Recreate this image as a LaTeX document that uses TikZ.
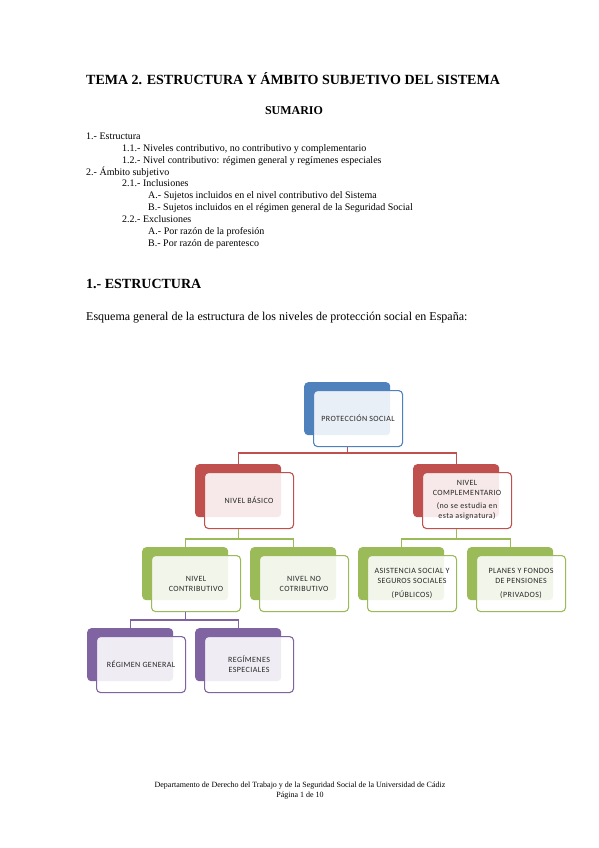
\documentclass[tikz,border=0pt]{standalone}
\usepackage{fontspec}
\setmainfont{Liberation Serif}
\newfontfamily\boxfont[LetterSpace=5]{Carlito}
\definecolor{cblue}{HTML}{4F81BD}
\definecolor{cred}{HTML}{C0504D}
\definecolor{cgreen}{HTML}{9BBB59}
\definecolor{cpurple}{HTML}{8064A2}
\begin{document}
\begin{tikzpicture}[x=1pt,y=-1pt,
  back/.style={draw=none, fill=#1, rounded corners=4pt, minimum width=86pt, minimum height=53pt, inner sep=0pt, anchor=north west},
  front/.style={draw=#1, line width=1.1pt, fill=white, fill opacity=0.88, text opacity=1, rounded corners=4pt, minimum width=89pt, minimum height=56pt, inner sep=1pt, anchor=north west, align=center, font=\boxfont\fontsize{8}{10}\selectfont, text=black!85, xshift=9pt, yshift=-8pt},
  conn/.style={draw=#1, line width=1.3pt},
  txt/.style={anchor=base west, inner sep=0pt, font=\fontsize{10}{12}\selectfont}]
\fill[white] (0,0) rectangle (599,848);
\useasboundingbox (0,0) rectangle (599,848);
% header texts
\node[anchor=base west, inner sep=0pt, font=\bfseries\fontsize{14}{16}\selectfont] (title) at (86,85) {TEMA 2. ESTRUCTURA Y ÁMBITO SUBJETIVO DEL SISTEMA};
\node[anchor=base, inner sep=0pt, font=\bfseries\fontsize{12}{14}\selectfont] (sumario) at (294,115) {SUMARIO};
\node[txt] (l1) at (86,139.5) {1.- Estructura};
\node[txt] (l2) at (122,151.4) {1.1.- Niveles contributivo, no contributivo y complementario};
\node[txt] (l3) at (122,163.2) {1.2.- Nivel contributivo: régimen general y regímenes especiales};
\node[txt] (l4) at (86,175.1) {2.- Ámbito subjetivo};
\node[txt] (l5) at (122,186.9) {2.1.- Inclusiones};
\node[txt] (l6) at (148,198.8) {A.- Sujetos incluidos en el nivel contributivo del Sistema};
\node[txt] (l7) at (148,210.6) {B.- Sujetos incluidos en el régimen general de la Seguridad Social};
\node[txt] (l8) at (122,222.5) {2.2.- Exclusiones};
\node[txt] (l9) at (148,234.3) {A.- Por razón de la profesión};
\node[txt] (l10) at (148,246.2) {B.- Por razón de parentesco};
\node[anchor=base west, inner sep=0pt, font=\bfseries\fontsize{14}{16}\selectfont] (sec) at (86,288) {1.- ESTRUCTURA};
\node[anchor=base west, inner sep=0pt, font=\fontsize{12}{14}\selectfont] (intro) at (86,320) {Esquema general de la estructura de los niveles de protección social en España:};
% boxes
\node[back=cblue] (bprot) at (304,382) {};
\node[front=cblue] (fprot) at (bprot.north west) {PROTECCIÓN SOCIAL};
\node[back=cred] (bbas) at (195,464) {};
\node[front=cred] (fbas) at (bbas.north west) {NIVEL BÁSICO};
\node[back=cred] (bcom) at (413,464) {};
\node[front=cred] (fcom) at (bcom.north west) {NIVEL\\COMPLEMENTARIO\\[3pt](no se estudia en\\esta asignatura)};
\node[back=cgreen] (bcon) at (142,547) {};
\node[front=cgreen] (fcon) at (bcon.north west) {NIVEL\\CONTRIBUTIVO};
\node[back=cgreen] (bnoc) at (250,547) {};
\node[front=cgreen] (fnoc) at (bnoc.north west) {NIVEL NO\\COTRIBUTIVO};
\node[back=cgreen] (basi) at (358,547) {};
\node[front=cgreen] (fasi) at (basi.north west) {ASISTENCIA SOCIAL Y\\SEGUROS SOCIALES\\[4pt](PÚBLICOS)};
\node[back=cgreen] (bpla) at (467,547) {};
\node[front=cgreen] (fpla) at (bpla.north west) {PLANES Y FONDOS\\DE PENSIONES\\[4pt](PRIVADOS)};
\node[back=cpurple] (brg) at (87,628) {};
\node[front=cpurple] (frg) at (brg.north west) {RÉGIMEN GENERAL};
\node[back=cpurple] (bre) at (195,628) {};
\node[front=cpurple] (fre) at (bre.north west) {REGÍMENES\\ESPECIALES};
% connectors
\draw[conn=cred] (bprot.center |- fprot.south) -- ++(0,6) -| (bbas.north);
\draw[conn=cred] (bprot.center |- fprot.south) -- ++(0,6) -| (bcom.north);
\draw[conn=cgreen] (bbas.center |- fbas.south) -- ++(0,10) -| (bcon.north);
\draw[conn=cgreen] (bbas.center |- fbas.south) -- ++(0,10) -| (bnoc.north);
\draw[conn=cgreen] (bcom.center |- fcom.south) -- ++(0,10) -| (basi.north);
\draw[conn=cgreen] (bcom.center |- fcom.south) -- ++(0,10) -| (bpla.north);
\draw[conn=cpurple] (bcon.center |- fcon.south) -- ++(0,8) -| (brg.north);
\draw[conn=cpurple] (bcon.center |- fcon.south) -- ++(0,8) -| (bre.north);
% footer
\node[anchor=base, inner sep=0pt, font=\fontsize{8}{9}\selectfont] (foot1) at (300,787) {Departamento de Derecho del Trabajo y de la Seguridad Social de la Universidad de Cádiz};
\node[anchor=base, inner sep=0pt, font=\fontsize{8}{9}\selectfont] (foot2) at (300,797) {Página 1 de 10};
\end{tikzpicture}
\end{document}
